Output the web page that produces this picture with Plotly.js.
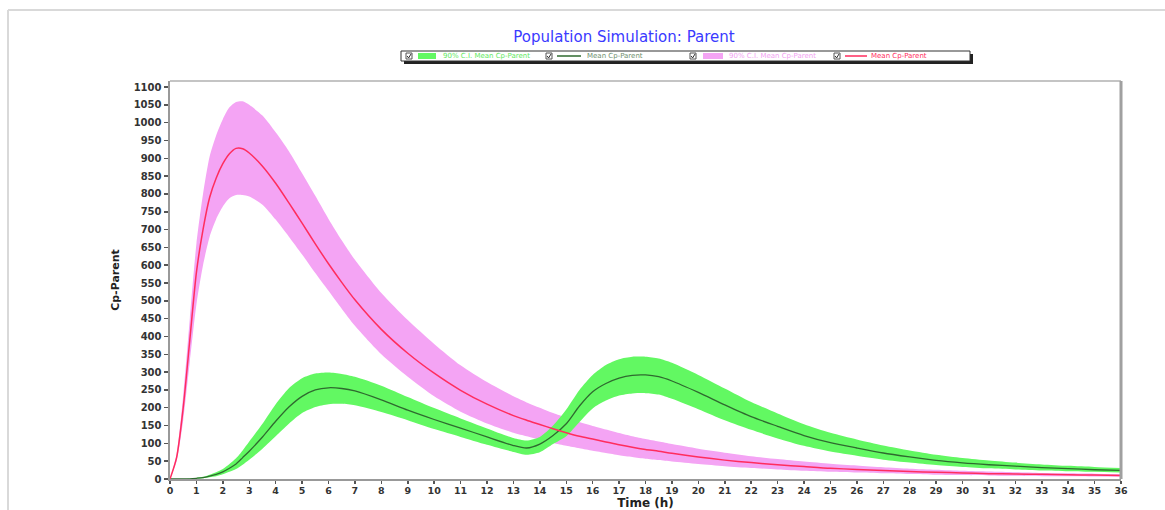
<!DOCTYPE html>
<html>
<head>
<meta charset="utf-8">
<script src="https://cdn.plot.ly/plotly-3.0.1.min.js"></script>
<style>
  html, body { margin: 0; padding: 0; background: #ffffff; }
  #chart { width: 1165px; height: 510px; }
</style>
</head>
<body>
<div id="chart"></div>
<script>
// ---- data ----
const timeH = [0,0.25,0.5,0.75,1,1.25,1.5,1.75,2,2.25,2.5,2.75,3,3.5,4,4.5,5,5.5,6,6.5,7,8,9,10,11,12,13,13.5,14,14.5,15,15.5,16,16.5,17,17.5,18,18.5,19,20,21,22,23,24,25,26,27,28,29,30,31,32,33,34,35,36];

const redMean  = [0,60,200,390,580,700,790,845,885,913,928,927,915,878,830,775,718,660,604,552,503,420,353,297,249,210,178,165,153,141,130,120,112,104,96,89,83,78,72,62,53,46,40,35,30,27,24,21,19,17,15,14,13,12,11,10];
const redUpper = [0,70,235,450,660,800,905,965,1010,1043,1058,1060,1050,1020,973,920,858,795,730,670,615,522,446,379,319,272,232,215,200,185,172,160,149,139,129,120,112,105,98,85,74,64,56,49,43,38,33,29,26,23,21,19,17,16,15,14];
const redLower = [0,50,165,330,490,600,680,730,765,788,797,797,793,770,728,680,630,578,528,478,430,350,287,232,189,156,130,120,110,101,93,86,79,73,67,62,57,53,49,42,36,31,27,23,20,18,16,14,12,11,10,9,8,7.5,7,6.5];

const greenMean  = [0,0,0,0.5,2,4,8,13,20,30,42,60,78,118,162,202,232,250,256,254,247,222,193,167,143,118,94,87,98,122,155,205,245,268,283,291,292,287,275,243,208,175,148,122,102,87,73,62,52,45,40,36,32,29,26,24];
const greenUpper = [0,0,0,1,3,6,12,19,28,42,58,80,105,155,210,255,283,296,299,295,287,262,230,199,170,142,115,108,118,150,195,250,292,320,336,343,343,338,326,292,254,216,184,154,130,111,94,80,68,59,52,46,41,37,34,31];
const greenLower = [0,0,0,0,1,2,5,8,13,20,28,40,54,85,120,155,185,202,210,211,207,188,165,140,118,96,76,68,75,98,120,160,198,220,234,240,241,237,225,196,165,138,114,93,77,65,54,46,39,34,30,27,24,22,20,18];

const legendLabels = ["90% C.I. Mean Cp-Parent", "Mean Cp-Parent", "90% C.I. Mean Cp-Parent", "Mean Cp-Parent"];
const chartTitle = "Population Simulation: Parent";
const xTitle = "Time (h)";
const yTitle = "Cp-Parent";

// ---- styling ----
const PINK = "#f4a4f4";
const GREEN = "#62f862";
const RED = "#ff2d5e";
const DKGREEN = "#2f6a2f";

// plot area in pixels (for positioning decorations in paper units)
const L = 170, R = 1121, T = 81, B = 479;
const px2x = p => (p - L) / (R - L);
const px2y = p => (B - p) / (B - T);

const SM = 0.7;
const traces = [
  {x: timeH, y: redLower, mode: "lines", line: {width: 0, shape: "spline", smoothing: SM, color: PINK}, hoverinfo: "skip", showlegend: false},
  {x: timeH, y: redUpper, mode: "lines", fill: "tonexty", fillcolor: PINK, line: {width: 0, shape: "spline", smoothing: SM, color: PINK}, name: legendLabels[2], showlegend: false},
  {x: timeH, y: greenLower, mode: "lines", line: {width: 0, shape: "spline", smoothing: SM, color: GREEN}, hoverinfo: "skip", showlegend: false},
  {x: timeH, y: greenUpper, mode: "lines", fill: "tonexty", fillcolor: GREEN, line: {width: 0, shape: "spline", smoothing: SM, color: GREEN}, name: legendLabels[0], showlegend: false},
  {x: timeH, y: greenMean, mode: "lines", line: {width: 1.3, shape: "spline", smoothing: SM, color: DKGREEN}, name: legendLabels[1], showlegend: false},
  {x: timeH, y: redMean, mode: "lines", line: {width: 1.5, shape: "spline", smoothing: SM, color: RED}, name: legendLabels[3], showlegend: false}
];

const tickFont = {family: "DejaVu Sans", size: 10, color: "#333333", weight: "bold"};

const shapes = [
  // outer light frame
  {type: "line", xref: "paper", yref: "paper", x0: px2x(8), x1: px2x(8), y0: px2y(10), y1: px2y(512), line: {color: "#d9d9d9", width: 2}},
  {type: "line", xref: "paper", yref: "paper", x0: px2x(8), x1: px2x(1170), y0: px2y(10), y1: px2y(10), line: {color: "#d9d9d9", width: 2}},
  // plot frame top and right
  {type: "line", xref: "paper", yref: "paper", x0: 0, x1: 1, y0: 1, y1: 1, line: {color: "#b0b0b0", width: 1.5}},
  {type: "line", xref: "paper", yref: "paper", x0: 1, x1: 1, y0: 0, y1: 1, line: {color: "#a0a0a0", width: 3}},
  // legend shadow and box
  {type: "rect", xref: "paper", yref: "paper", x0: px2x(404), x1: px2x(973), y0: px2y(64), y1: px2y(54), fillcolor: "#222222", line: {width: 0}},
  {type: "rect", xref: "paper", yref: "paper", x0: px2x(401), x1: px2x(970), y0: px2y(61), y1: px2y(51), fillcolor: "#ffffff", line: {color: "#333333", width: 1}},
  // legend swatches
  {type: "rect", xref: "paper", yref: "paper", x0: px2x(418), x1: px2x(436), y0: px2y(59), y1: px2y(53), fillcolor: GREEN, line: {width: 0}},
  {type: "line", xref: "paper", yref: "paper", x0: px2x(557), x1: px2x(581), y0: px2y(56), y1: px2y(56), line: {color: DKGREEN, width: 1.5}},
  {type: "rect", xref: "paper", yref: "paper", x0: px2x(703), x1: px2x(723), y0: px2y(59), y1: px2y(53), fillcolor: PINK, line: {width: 0}},
  {type: "line", xref: "paper", yref: "paper", x0: px2x(845), x1: px2x(867), y0: px2y(56), y1: px2y(56), line: {color: RED, width: 1.5}}
];
// legend check boxes
[406, 546, 690, 834].forEach(cx => {
  shapes.push({type: "rect", xref: "paper", yref: "paper", x0: px2x(cx), x1: px2x(cx + 6), y0: px2y(59), y1: px2y(53), fillcolor: "#ffffff", line: {color: "#555555", width: 1}});
  shapes.push({type: "path", xref: "paper", yref: "paper",
    path: "M " + px2x(cx + 1.2) + " " + px2y(56) + " L " + px2x(cx + 2.6) + " " + px2y(58) + " L " + px2x(cx + 5) + " " + px2y(54),
    line: {color: "#333333", width: 1}});
});

const legendTextColors = ["#5ee85e", "#6f8f6f", "#f2a2f2", "#ff2d5e"];
const legendTextX = [441, 585, 727, 869];
const annotations = legendLabels.map((t, i) => ({
  text: t, xref: "paper", yref: "paper", x: px2x(legendTextX[i]), y: px2y(56),
  xanchor: "left", yanchor: "middle", showarrow: false,
  font: {family: "DejaVu Sans", size: 7, color: legendTextColors[i]}
}));

const layout = {
  width: 1165, height: 510,
  margin: {l: L, r: 1165 - R, t: T, b: 510 - B, pad: 0},
  paper_bgcolor: "#ffffff", plot_bgcolor: "#ffffff",
  showlegend: false,
  title: {text: chartTitle, x: 624 / 1165, xref: "container", xanchor: "center", y: 1 - 37 / 510, yref: "container", yanchor: "middle",
    font: {family: "DejaVu Sans", size: 15, color: "#3a3aff"}},
  xaxis: {
    range: [0, 36], tick0: 0, dtick: 1, ticks: "outside", ticklen: 3, tickwidth: 1.5, tickcolor: "#555555",
    showline: true, linecolor: "#999999", linewidth: 2, showgrid: false, zeroline: false,
    tickfont: {family: "DejaVu Sans", size: 9.5, color: "#333333", weight: "bold"}, ticklabelstandoff: -1, fixedrange: true,
    title: {text: xTitle, standoff: 3, font: {family: "DejaVu Sans", size: 12, color: "#222222", weight: "bold"}}
  },
  yaxis: {
    range: [0, 1117], tick0: 0, dtick: 50, ticks: "outside", ticklen: 4, tickwidth: 1.5, tickcolor: "#555555",
    showline: true, linecolor: "#999999", linewidth: 2.5, showgrid: false, zeroline: false,
    tickfont: tickFont, fixedrange: true,
    title: {text: yTitle, standoff: 12, font: {family: "DejaVu Sans", size: 11, color: "#222222", weight: "bold"}}
  },
  shapes: shapes,
  annotations: annotations
};

Plotly.newPlot("chart", traces, layout, {displayModeBar: false, staticPlot: true});
</script>
</body>
</html>
